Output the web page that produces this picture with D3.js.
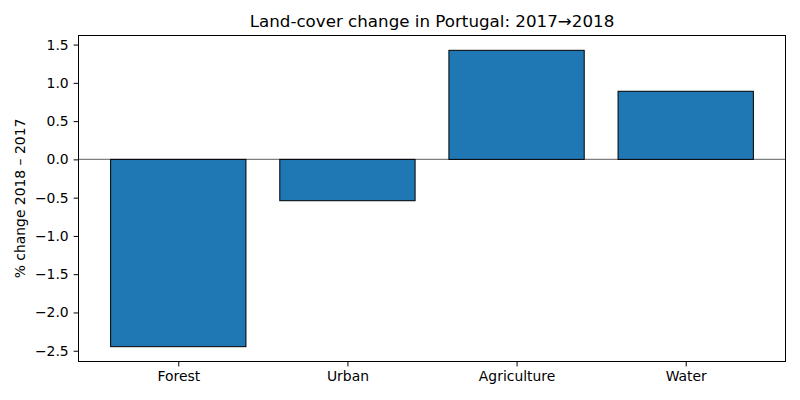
<!DOCTYPE html>
<html>
<head>
<meta charset="utf-8">
<script src="https://cdn.jsdelivr.net/npm/d3@7"></script>
<style>
  body { margin: 0; background: #fff; }
  text { font-family: "DejaVu Sans", sans-serif; fill: #000; }
</style>
</head>
<body>
<svg id="chart" width="800" height="400"></svg>
<script>
// data
var categories = ["Forest", "Urban", "Agriculture", "Water"];
var changes = [-2.447, -0.54, 1.425, 0.89];
var yTicks = [-2.5, -2.0, -1.5, -1.0, -0.5, 0.0, 0.5, 1.0, 1.5];

var svg = d3.select("#chart");
var m = {left: 78.5, right: 785.5, top: 35.5, bottom: 361.5};

// matplotlib-ish 5% autoscale margins
var lo = d3.min(changes), hi = d3.max(changes);
var pad = (hi - lo) * 0.05;
var y = d3.scaleLinear().domain([lo - pad, hi + pad]).range([m.bottom, m.top]);

var barW = 0.8;
var xpad = (categories.length - 1 + barW) * 0.05;
var x = d3.scaleLinear()
  .domain([-barW / 2 - xpad, categories.length - 1 + barW / 2 + xpad])
  .range([m.left, m.right]);

// zero line
svg.append("line")
  .attr("x1", m.left).attr("x2", m.right)
  .attr("y1", y(0)).attr("y2", y(0))
  .attr("stroke", "#808080").attr("stroke-width", 1.1);

// bars
svg.selectAll("rect.bar").data(changes).enter().append("rect")
  .attr("class", "bar")
  .attr("x", function(d, i){ return x(i - barW / 2); })
  .attr("width", function(d, i){ return x(i + barW / 2) - x(i - barW / 2); })
  .attr("y", function(d){ return y(Math.max(0, d)); })
  .attr("height", function(d){ return Math.abs(y(d) - y(0)); })
  .attr("fill", "#1f77b4")
  .attr("stroke", "#000")
  .attr("stroke-width", 1);

// axes
var yAxis = d3.axisLeft(y).tickValues(yTicks).tickSize(4.9).tickPadding(4.9)
  .tickFormat(function(d){ return d3.format(".1f")(d).replace("-", "\u2212"); });
var gy = svg.append("g").attr("transform", "translate(" + m.left + ",0)").call(yAxis);

var xAxis = d3.axisBottom(x).tickValues(d3.range(categories.length)).tickSize(4.9).tickPadding(4.9)
  .tickFormat(function(d){ return categories[d]; });
var gx = svg.append("g").attr("transform", "translate(0," + m.bottom + ")").call(xAxis);

[gx, gy].forEach(function(g){
  g.select(".domain").remove();
  g.selectAll("line").attr("stroke", "#000").attr("stroke-width", 1);
  g.selectAll("text").style("font-size", "13.9px").style("font-family", "DejaVu Sans, sans-serif");
});

// frame
svg.append("rect")
  .attr("x", m.left).attr("y", m.top)
  .attr("width", m.right - m.left).attr("height", m.bottom - m.top)
  .attr("fill", "none").attr("stroke", "#000").attr("stroke-width", 1);

// title
svg.append("text")
  .attr("x", (m.left + m.right) / 2).attr("y", m.top - 8.3)
  .attr("text-anchor", "middle")
  .style("font-size", "16.7px")
  .text("Land-cover change in Portugal: 2017\u21922018");

// y label
svg.append("text")
  .attr("transform", "translate(25," + ((m.top + m.bottom) / 2) + ") rotate(-90)")
  .attr("text-anchor", "middle")
  .style("font-size", "13.9px")
  .text("% change 2018 \u2013 2017");
</script>
</body>
</html>
